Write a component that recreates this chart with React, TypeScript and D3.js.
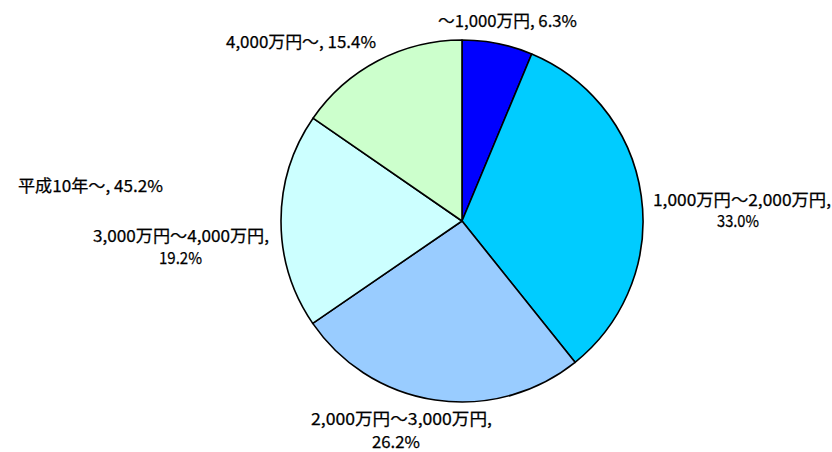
import React from "react";
import * as d3 from "d3";

const categories = ["～1,000万円", "1,000万円～2,000万円", "2,000万円～3,000万円", "3,000万円～4,000万円", "4,000万円～"];
const values = [6.3, 33.0, 26.2, 19.2, 15.4];
const colors = ["#0000FF", "#00CCFF", "#99CCFF", "#CCFFFF", "#CCFFCC"];
const noteText = "平成10年～, 45.2%";

// label layout: lines with [x, baseline y, width]
const labelLayout: { lines: [string, number, number, number][] }[] = [
  { lines: [["", 438, 27, 139]] },
  { lines: [["", 653, 206, 178], ["", 717, 227, 42]] },
  { lines: [["", 311, 425, 181], ["", 372, 448, 48]] },
  { lines: [["", 93, 242, 176], ["", 159, 264, 43]] },
  { lines: [["", 226, 48, 150]] },
];

export default function App() {
  const W = 832, H = 452;
  const cx = 462, cy = 221, r = 181;
  const pie = d3.pie<number>().sort(null).value((d) => d)(values);
  const arc = d3.arc<d3.PieArcDatum<number>>().innerRadius(0).outerRadius(r);
  const fmt = (v: number) => v.toFixed(1) + "%";
  const labelTexts = categories.map((c, i) => {
    const single = labelLayout[i].lines.length === 1;
    return single ? [c + ", " + fmt(values[i])] : [c + ",", fmt(values[i])];
  });
  return (
    <svg width={W} height={H} style={{ position: "absolute", left: 0, top: 0 }}>
      <rect width={W} height={H} fill="#fff" />
      <g transform={`translate(${cx},${cy})`}>
        {pie.map((p, i) => (
          <path key={i} d={arc(p) || ""} fill={colors[i]} stroke="#000" strokeWidth={1.6} strokeLinejoin="round" />
        ))}
      </g>
      <g fontFamily="'Noto Sans CJK JP', 'Noto Sans', sans-serif" fontSize={16.5} fill="#000" stroke="#000" strokeWidth={0.25}>
        {labelLayout.map((l, i) =>
          l.lines.map((ln, j) => (
            <text key={i + "-" + j} x={ln[1]} y={ln[2]} textLength={ln[3]} lengthAdjust="spacingAndGlyphs">
              {labelTexts[i][j]}
            </text>
          ))
        )}
        <text x={18} y={192} textLength={145} lengthAdjust="spacingAndGlyphs">{noteText}</text>
      </g>
    </svg>
  );
}
